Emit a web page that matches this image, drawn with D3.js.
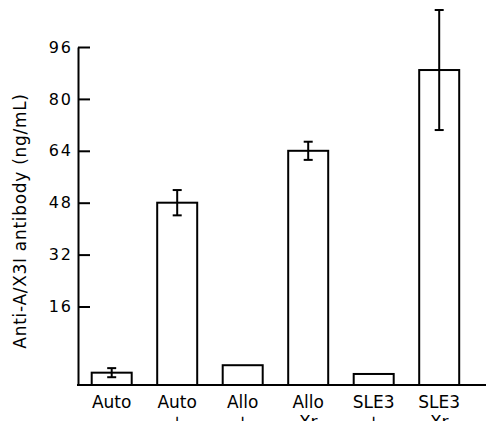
<!DOCTYPE html>
<head>
    <meta charset="utf-8">
    <title>Anti-A/X3I antibody</title>
    <style>
        html, body {
            margin: 0;
            width: 100%;
            height: 100%;
            background: #fff;
            overflow: hidden;
        }

        svg {
            display: block;
            font-family: "DejaVu Sans", sans-serif;
        }

        .bar, .err, .axis path, .axis line {
            stroke: #000;
            stroke-width: 2px;
        }

        .bar {
            fill: #fff;
        }
    </style>
</head>
<body>
<script src="https://cdn.jsdelivr.net/npm/d3@7"></script>
<script>

    // values (the baseline of the axis sits below 0)
    const groups = ["Auto", "Auto", "Allo", "Allo", "SLE3", "SLE3"];
    const treatments = ["\u2212", "+", "+", "Xr", "+", "Xr"];
    const means = [-4.4, 48.0, -2.1, 64.0, -4.8, 88.9];
    const errors = [1.4, 3.9, 0, 2.8, 0, 18.5];
    const yTicks = [16, 32, 48, 64, 80, 96];
    const yFloor = -8.2;

    const width = 486,
        height = 421;

    const svg = d3.select("body").append("svg")
        .attr("width", width)
        .attr("height", height);

    const y = d3.scaleLinear()
        .domain([yFloor, 96])
        .range([385, 47]);

    const x = d3.scalePoint()
        .domain(d3.range(groups.length))
        .range([111.7, 439.2]);

    const barW = 40,
        capW = 9;

    // y axis, ticks pointing inwards
    const yAxis = d3.axisLeft(y)
        .tickValues(yTicks)
        .tickSizeInner(-12)
        .tickSizeOuter(0)
        .tickPadding(5);

    svg.append("g")
        .attr("class", "axis")
        .attr("transform", "translate(78,0)")
        .call(yAxis)
        .call(g => g.selectAll("text")
            .attr("fill", "#000")
            .style("font-size", "16px")
            .style("letter-spacing", "2px")
            .style("font-family", "'DejaVu Sans', sans-serif"));

    // baseline runs off the right edge
    svg.append("line")
        .attr("class", "err")
        .attr("x1", 77).attr("x2", width)
        .attr("y1", y(yFloor)).attr("y2", y(yFloor));

    svg.selectAll("rect.bar")
        .data(means)
        .enter().append("rect")
        .attr("class", "bar")
        .attr("x", (d, i) => x(i) - barW / 2)
        .attr("width", barW)
        .attr("y", d => y(d))
        .attr("height", d => y(yFloor) - y(d));

    const eb = svg.selectAll("g.errbar")
        .data(means.map((m, i) => ({m: m, e: errors[i], i: i})).filter(d => d.e > 0))
        .enter().append("g")
        .attr("class", "errbar");

    eb.append("line")
        .attr("class", "err")
        .attr("x1", d => x(d.i)).attr("x2", d => x(d.i))
        .attr("y1", d => y(d.m + d.e)).attr("y2", d => y(d.m - d.e));

    [1, -1].forEach(s => {
        eb.append("line")
            .attr("class", "err")
            .attr("x1", d => x(d.i) - capW / 2).attr("x2", d => x(d.i) + capW / 2)
            .attr("y1", d => y(d.m + s * d.e)).attr("y2", d => y(d.m + s * d.e));
    });

    // two-line category labels, second line cut by the frame as in the scan
    const lab = svg.selectAll("text.cat")
        .data(groups)
        .enter().append("text")
        .attr("class", "cat")
        .attr("text-anchor", "middle")
        .style("font-size", "17px");

    lab.append("tspan")
        .attr("x", (d, i) => x(i))
        .attr("y", 408)
        .text(d => d);

    lab.append("tspan")
        .attr("x", (d, i) => x(i))
        .attr("y", 428)
        .text((d, i) => treatments[i]);

    svg.append("text")
        .attr("transform", "translate(26," + 221 + ") rotate(-90)")
        .attr("text-anchor", "middle")
        .style("font-size", "17px")
        .style("letter-spacing", "0.7px")
        .text("Anti-A/X3I antibody (ng/mL)");

</script>
